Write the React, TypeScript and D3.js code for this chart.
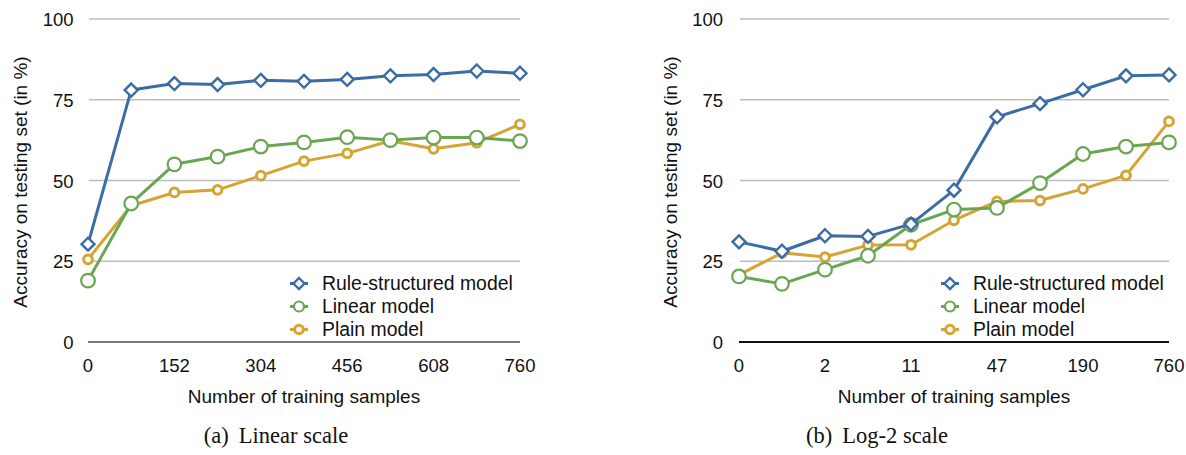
import React, { useEffect, useRef } from "react";
import * as d3 from "d3";

// left panel: linear x axis
const linearSamples = [0, 76, 152, 228, 304, 380, 456, 532, 608, 684, 760];
const linearTicks = [0, 152, 304, 456, 608, 760];
const linearRule = [30.3, 78.0, 80.0, 79.7, 81.0, 80.7, 81.3, 82.4, 82.8, 83.9, 83.2];
const linearLinear = [19.0, 42.9, 55.0, 57.4, 60.5, 61.8, 63.4, 62.5, 63.3, 63.3, 62.2];
const linearPlain = [25.6, 42.2, 46.3, 47.1, 51.5, 56.0, 58.4, 62.3, 59.8, 61.7, 67.4];

// right panel: log-2 x axis, points are evenly spaced steps
const logSteps = [0, 1, 2, 3, 4, 5, 6, 7, 8, 9, 10];
const logTickSteps = [0, 2, 4, 6, 8, 10];
const logTickLabels = ["0", "2", "11", "47", "190", "760"];
const logRule = [31.0, 28.1, 32.9, 32.7, 36.5, 47.0, 69.7, 73.8, 78.1, 82.4, 82.7];
const logLinear = [20.3, 18.0, 22.4, 26.7, 36.3, 41.0, 41.5, 49.2, 58.2, 60.5, 61.8];
const logPlain = [20.8, 27.6, 26.3, 30.0, 30.1, 37.7, 43.5, 43.8, 47.4, 51.6, 68.3];

const yTicks = [0, 25, 50, 75, 100];
const seriesNames = ["Rule-structured model", "Linear model", "Plain model"];

const BLUE = "#3b6ca3";
const GREEN = "#6aa652";
const ORANGE = "#d5a434";
const SANS = "'Liberation Sans', Arial, Helvetica, sans-serif";
const SERIF = "'Liberation Serif', 'Times New Roman', serif";

function drawMarker(g, kind, x, y, small) {
  if (kind === "diamond") {
    const s = small ? 5.5 : 6.5;
    g.append("path")
      .attr("d", `M${x},${y - s}L${x + s},${y}L${x},${y + s}L${x - s},${y}Z`)
      .attr("fill", "white")
      .attr("stroke", BLUE)
      .attr("stroke-width", 2.4);
  } else if (kind === "big") {
    g.append("circle")
      .attr("cx", x).attr("cy", y).attr("r", small ? 5 : 6.8)
      .attr("fill", "white")
      .attr("stroke", GREEN)
      .attr("stroke-width", 2.2);
  } else {
    g.append("circle")
      .attr("cx", x).attr("cy", y).attr("r", small ? 4.3 : 4.4)
      .attr("fill", "white")
      .attr("stroke", ORANGE)
      .attr("stroke-width", 3);
  }
}

function drawPanel(svg, opts) {
  const { xs, x, ticks, tickLabels, series, baseColor, yLabelX, titleX, legendX, caption, capX } = opts;
  const y = d3.scaleLinear().domain([0, 100]).range([342, 19]);
  const [x0, x1] = x.range();

  const g = svg.append("g");

  // grid
  g.selectAll(".grid")
    .data(yTicks.filter((t) => t > 0))
    .join("line")
    .attr("x1", x0 + 1).attr("x2", x1)
    .attr("y1", (d) => y(d)).attr("y2", (d) => y(d))
    .attr("stroke", "#bdbdbd")
    .attr("stroke-width", 1.5);
  g.append("line")
    .attr("x1", x0).attr("x2", x1)
    .attr("y1", y(0)).attr("y2", y(0))
    .attr("stroke", baseColor)
    .attr("stroke-width", 1.8);

  g.selectAll(".ylab")
    .data(yTicks)
    .join("text")
    .attr("x", yLabelX)
    .attr("y", (d) => y(d) + 7)
    .attr("text-anchor", "end")
    .attr("font-family", SANS)
    .attr("font-size", 18.5)
    .attr("fill", "#111")
    .text((d) => d);

  g.selectAll(".xlab")
    .data(ticks)
    .join("text")
    .attr("x", (d) => x(d))
    .attr("y", 371.5)
    .attr("text-anchor", "middle")
    .attr("font-family", SANS)
    .attr("font-size", 18.5)
    .attr("fill", "#111")
    .text((d, i) => tickLabels[i]);

  g.append("text")
    .attr("transform", `translate(${titleX},182) rotate(-90)`)
    .attr("text-anchor", "middle")
    .attr("font-family", SANS)
    .attr("font-size", 19)
    .attr("fill", "#111")
    .text("Accuracy on testing set (in %)");

  g.append("text")
    .attr("x", (x0 + x1) / 2)
    .attr("y", 403)
    .attr("text-anchor", "middle")
    .attr("font-family", SANS)
    .attr("font-size", 19)
    .attr("fill", "#111")
    .text("Number of training samples");

  // series, plain first so the rule-structured line sits on top
  const order = [2, 1, 0];
  order.forEach((k) => {
    const s = series[k];
    const line = d3.line().x((d, i) => x(xs[i])).y((d) => y(d));
    g.append("path")
      .datum(s.values)
      .attr("d", line)
      .attr("fill", "none")
      .attr("stroke", s.color)
      .attr("stroke-width", 3)
      .attr("stroke-linejoin", "round");
    s.values.forEach((v, i) => drawMarker(g, s.marker, x(xs[i]), y(v), false));
  });

  // legend
  series.forEach((s, i) => {
    const ly = 283.5 + i * 23;
    g.append("line")
      .attr("x1", legendX - 9).attr("x2", legendX + 9)
      .attr("y1", ly).attr("y2", ly)
      .attr("stroke", s.color)
      .attr("stroke-width", 3);
    drawMarker(g, s.marker, legendX, ly, true);
    g.append("text")
      .attr("x", legendX + 23)
      .attr("y", ly + 6.5)
      .attr("font-family", SANS)
      .attr("font-size", 19.4)
      .attr("fill", "#111")
      .text(seriesNames[i]);
  });

  const cap = g.append("text")
    .attr("x", capX)
    .attr("y", 443)
    .attr("text-anchor", "middle")
    .attr("font-family", SERIF)
    .attr("font-size", 22.5)
    .attr("fill", "#111");
  cap.append("tspan").text(caption[0]);
  cap.append("tspan").attr("dx", 10).text(caption[1]);
}

export default function App() {
  const el = useRef(null);

  useEffect(() => {
    const svg = d3.select(el.current);
    svg.selectAll("*").remove();

    drawPanel(svg, {
      xs: linearSamples,
      x: d3.scaleLinear().domain([0, 760]).range([88, 520]),
      ticks: linearTicks,
      tickLabels: linearTicks.map(String),
      series: [
        { values: linearRule, color: BLUE, marker: "diamond" },
        { values: linearLinear, color: GREEN, marker: "big" },
        { values: linearPlain, color: ORANGE, marker: "small" },
      ],
      baseColor: "#7a7a7a",
      yLabelX: 73.5,
      titleX: 27,
      legendX: 299,
      caption: ["(a)", "Linear scale"],
      capX: 276,
    });

    drawPanel(svg, {
      xs: logSteps,
      x: d3.scaleLinear().domain([0, 10]).range([739, 1169]),
      ticks: logTickSteps,
      tickLabels: logTickLabels,
      series: [
        { values: logRule, color: BLUE, marker: "diamond" },
        { values: logLinear, color: GREEN, marker: "big" },
        { values: logPlain, color: ORANGE, marker: "small" },
      ],
      baseColor: "#111",
      yLabelX: 723,
      titleX: 677,
      legendX: 950,
      caption: ["(b)", "Log-2 scale"],
      capX: 877,
    });
  }, []);

  return (
    <svg
      ref={el}
      width={1186}
      height={455}
      style={{ position: "absolute", left: 0, top: 0, background: "white" }}
    />
  );
}
